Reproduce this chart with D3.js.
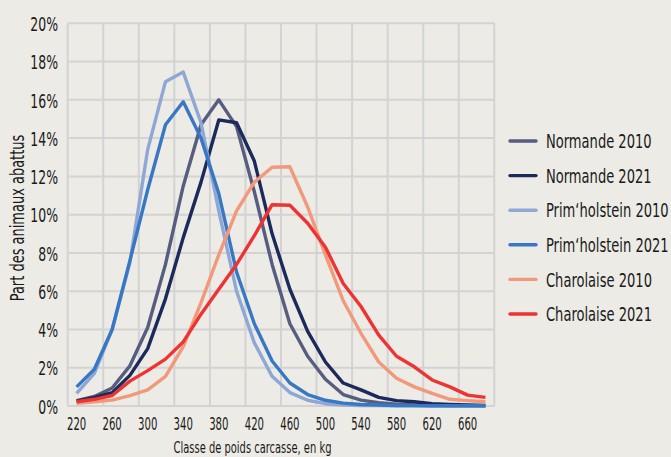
<!DOCTYPE html>
<html>
<head>
<meta charset="utf-8">
<script src="https://cdn.jsdelivr.net/npm/d3@7"></script>
<style>
    body { margin: 0; background: #ecebe5; }
    svg { display: block; }
</style>
</head>
<body>
<div id="container"><svg></svg></div>
<script>
let width = 671;
let height = 457;
let fontFamily = '"DejaVu Sans Condensed", "DejaVu Sans", sans-serif';

// classes de poids (kg)
let categories = ['220', '240', '260', '280', '300', '320', '340', '360', '380', '400', '420', '440',
                  '460', '480', '500', '520', '540', '560', '580', '600', '620', '640', '660', '680'];
let tick_labels = ['220', '260', '300', '340', '380', '420', '460', '500', '540', '580', '620', '660'];
let y_ticks = [0, 2, 4, 6, 8, 10, 12, 14, 16, 18, 20];

// part des animaux abattus (%)
let normande_2010 = [0.28, 0.5, 0.94, 2.1, 4.1, 7.4, 11.5, 14.7, 16.0, 14.6, 11.2, 7.4,
                     4.3, 2.6, 1.4, 0.6, 0.31, 0.17, 0.1, 0.06, 0.04, 0.02, 0.02, 0.01];
let normande_2021 = [0.25, 0.45, 0.7, 1.6, 3.0, 5.6, 8.8, 11.7, 14.95, 14.8, 12.8, 9.0,
                     6.1, 3.9, 2.3, 1.2, 0.84, 0.45, 0.28, 0.22, 0.12, 0.08, 0.05, 0.03];
let prim_2010 = [0.66, 1.7, 4.0, 7.5, 13.4, 16.95, 17.45, 14.8, 10.2, 6.0, 3.3, 1.55,
                 0.7, 0.3, 0.12, 0.05, 0.03, 0.02, 0.01, 0.01, 0, 0, 0, 0];
let prim_2021 = [1.0, 1.92, 4.0, 7.6, 11.3, 14.7, 15.9, 14.0, 11.1, 7.0, 4.3, 2.35,
                 1.2, 0.6, 0.3, 0.15, 0.08, 0.05, 0.03, 0.02, 0.01, 0.01, 0.01, 0.01];
let charolaise_2010 = [0.14, 0.22, 0.31, 0.54, 0.84, 1.55, 3.1, 5.4, 7.9, 10.2, 11.7, 12.48,
                       12.5, 10.4, 7.9, 5.5, 3.8, 2.3, 1.45, 1.0, 0.66, 0.35, 0.28, 0.22];
let charolaise_2021 = [0.22, 0.35, 0.55, 1.3, 1.85, 2.45, 3.35, 4.8, 6.1, 7.4, 8.9, 10.52,
                       10.49, 9.55, 8.3, 6.4, 5.2, 3.7, 2.6, 2.05, 1.36, 1.0, 0.57, 0.45];

let series_names = ['Normande 2010', 'Normande 2021', 'Prim\u2018holstein 2010',
                    'Prim\u2018holstein 2021', 'Charolaise 2010', 'Charolaise 2021'];
let series_values = [normande_2010, normande_2021, prim_2010, prim_2021, charolaise_2010, charolaise_2021];
let series_colors = ['#565d7f', '#1b2a5a', '#8fa7d5', '#3877c3', '#f2987b', '#ee3333'];

// squeeze text horizontally (around its anchor) so it looks like the condensed face of the original
function condense(sel, factor) {
    sel.each(function() {
        let t = d3.select(this);
        let x0 = +t.attr('x') || 0;
        let tr = t.attr('transform') || '';
        t.attr('transform', `${tr} translate(${x0},0) scale(${factor},1) translate(${-x0},0)`);
    });
}

function factor_for(sel, target) {
    return target / sel.node().getComputedTextLength();
}

function draw_main() {
    let padding = {'left': 67.7, 'right': width - 494.3, 'top': 23.3, 'bottom': height - 406};
    let svg = d3.select('#container').select('svg')
        .attr('width', width)
        .attr('height', height)
        .attr('font-family', fontFamily);

    svg.append('rect')
        .attr('width', width).attr('height', height)
        .attr('fill', '#ecebe5');

    let x = d3.scaleBand()
        .domain(categories)
        .range([padding.left, width - padding.right]);
    let y = d3.scaleLinear()
        .domain([0, 20])
        .range([height - padding.bottom, padding.top]);

    // grid
    let grid = svg.append('g').attr('stroke', '#d3d3d3').attr('stroke-width', 2);
    grid.selectAll('.h').data(y_ticks).enter().append('line')
        .attr('x1', padding.left).attr('x2', width - padding.right)
        .attr('y1', d => y(d)).attr('y2', d => y(d));
    let vx = categories.filter((d, i) => i % 2 == 0).map(d => x(d));
    vx.push(width - padding.right);
    grid.selectAll('.v').data(vx).enter().append('line')
        .attr('x1', d => d).attr('x2', d => d)
        .attr('y1', padding.top).attr('y2', height - padding.bottom);

    // y axis
    let axis_y = d3.axisLeft(y)
        .tickValues(y_ticks)
        .tickSize(0)
        .tickPadding(0)
        .tickFormat(d => d + '%');
    let yt = svg.append('g')
        .attr('transform', `translate(${58}, 0)`)
        .call(axis_y)
        .call(g => g.select('.domain').remove())
        .attr('font-family', fontFamily)
        .attr('font-size', 20)
        .selectAll('text')
        .attr('fill', '#1a1a1a')
        .attr('dy', '0.36em');
    condense(yt, factor_for(yt.filter(d => d == 20), 27.7));

    // x axis
    let axis_x = d3.axisBottom(x)
        .tickValues(tick_labels)
        .tickSize(0)
        .tickPadding(0);
    let xt = svg.append('g')
        .attr('transform', `translate(0, ${height - padding.bottom})`)
        .call(axis_x)
        .call(g => g.select('.domain').remove())
        .attr('font-family', fontFamily)
        .attr('font-size', 17)
        .selectAll('text')
        .attr('fill', '#1a1a1a')
        .attr('dy', 0)
        .attr('y', 24);
    condense(xt, factor_for(xt.filter(d => d == '220'), 19.3));

    // axis titles
    let xtitle = svg.append('text')
        .attr('x', 252.5).attr('y', 453)
        .attr('text-anchor', 'middle')
        .attr('font-size', 16)
        .attr('fill', '#1a1a1a')
        .text('Classe de poids carcasse, en kg');
    condense(xtitle, factor_for(xtitle, 158));
    let ytitle = svg.append('text')
        .attr('transform', `translate(23.5, 218) rotate(-90)`)
        .attr('text-anchor', 'middle')
        .attr('font-size', 19)
        .attr('fill', '#1a1a1a')
        .text('Part des animaux abattus');
    condense(ytitle, factor_for(ytitle, 166.7));

    // lines
    let line = d3.line()
        .x((d, i) => x(categories[i]) + x.bandwidth() / 2)
        .y(d => y(d));
    svg.append('g')
        .selectAll('path')
        .data(series_values)
        .enter().append('path')
        .attr('d', d => line(d))
        .attr('fill', 'none')
        .attr('stroke', (d, i) => series_colors[i])
        .attr('stroke-width', 3.4)
        .attr('stroke-linejoin', 'round');

    // legend
    let legend = svg.append('g')
        .selectAll('g')
        .data(series_names)
        .enter().append('g')
        .attr('transform', (d, i) => `translate(510, ${141 + i * 34.6})`);
    legend.append('line')
        .attr('x1', 0).attr('x2', 26)
        .attr('stroke', (d, i) => series_colors[i])
        .attr('stroke-width', 3.4)
        .attr('stroke-linecap', 'round');
    let lt = legend.append('text')
        .attr('x', 36).attr('dy', '0.36em')
        .attr('font-size', 20)
        .attr('fill', '#1a1a1a')
        .text(d => d);
    condense(lt, factor_for(lt.filter((d, i) => i == 0), 105.7));
}

draw_main();
</script>
</body>
</html>
